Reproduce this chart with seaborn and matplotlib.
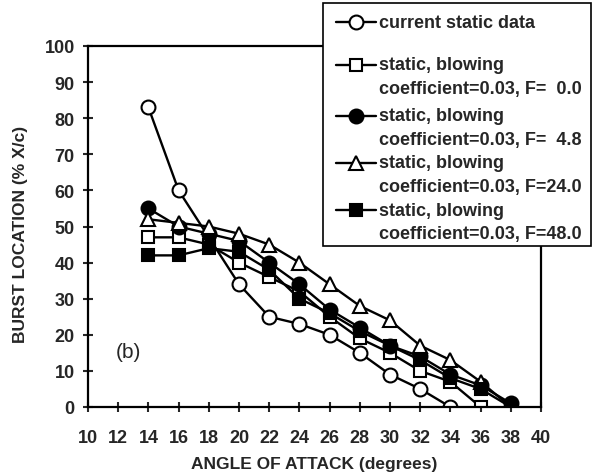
import matplotlib
matplotlib.use("Agg")
import matplotlib.pyplot as plt
from matplotlib.lines import Line2D
from matplotlib.patches import Rectangle
import seaborn as sns

# Burst location (% X/c) versus angle of attack (degrees)
angle_current = [14, 16, 20, 22, 24, 26, 28, 30, 32, 34]
burst_current = [83, 60, 34, 25, 23, 20, 15, 9, 5, 0]

angle_blowing = [14, 16, 18, 20, 22, 24, 26, 28, 30, 32, 34, 36, 38]
burst_f0_0 = [47, 47, 45, 40, 36, 32, 25, 19, 15, 10, 7, 0]
burst_f4_8 = [55, 50, 48, 46, 40, 34, 27, 22, 17, 14, 9, 6, 1]
burst_f24_0 = [52, 51, 50, 48, 45, 40, 34, 28, 24, 17, 13, 7, 0]
burst_f48_0 = [42, 42, 44, 43, 38, 30, 26, 21, 17, 13, 8, 5, 0]

legend_labels = [
    ["current static data"],
    ["static, blowing", "coefficient=0.03, F=  0.0"],
    ["static, blowing", "coefficient=0.03, F=  4.8"],
    ["static, blowing", "coefficient=0.03, F=24.0"],
    ["static, blowing", "coefficient=0.03, F=48.0"],
]

x_ticks = list(range(10, 41, 2))
y_ticks = list(range(0, 101, 10))

sns.set_style("ticks")
plt.rcParams["font.family"] = ["Liberation Sans", "DejaVu Sans"]
plt.rcParams["font.weight"] = "bold"

W, H = 596, 477
fig = plt.figure(figsize=(W / 100, H / 100), dpi=100)
ax = fig.add_axes([88 / W, 1 - 408 / H, (541 - 88) / W, (408 - 47) / H])

series = [
    (angle_current, burst_current, "o", "white", 10),
    (angle_blowing[:len(burst_f0_0)], burst_f0_0, "s", "white", 9),
    (angle_blowing, burst_f4_8, "o", "black", 10),
    (angle_blowing, burst_f24_0, "^", "white", 9.5),
    (angle_blowing, burst_f48_0, "s", "black", 9),
]

for xs, ys, mk, face, ms in series:
    sns.lineplot(x=xs, y=ys, ax=ax, color="black", linewidth=1.7,
                 marker=mk, markersize=ms, markerfacecolor=face,
                 markeredgecolor="black", markeredgewidth=1.5,
                 errorbar=None, legend=False)

ax.set_xlim(10, 40)
ax.set_ylim(0, 100)
ax.set_xticks(x_ticks)
ax.set_yticks(y_ticks)
ax.tick_params(direction="inout", length=7, width=1.5, labelsize=13)
ax.tick_params(axis="x", pad=12)
ax.tick_params(axis="y", pad=6)
for lab in ax.get_xticklabels() + ax.get_yticklabels():
    lab.set_fontweight("bold")
for sp in ax.spines.values():
    sp.set_linewidth(1.6)
    sp.set_color("black")

ax.set_xlabel("ANGLE OF ATTACK (degrees)", fontsize=12.5, fontweight="bold")
ax.set_ylabel("BURST LOCATION (% X/c)", fontsize=12.5, fontweight="bold")
ax.xaxis.set_label_coords(0.5, -0.137)
ax.yaxis.set_label_coords(-0.132, 0.48)

ax.text(12.7, 15.5, "(b)", fontsize=15, fontweight="normal",
        ha="center", va="center")

# Key box drawn in figure pixels, sitting over the top-right corner of the frame
def fx(px):
    return px / W

def fy(py):
    return 1 - py / H

box = Rectangle((fx(323), fy(247)), fx(591) - fx(323), fy(4) - fy(247),
                transform=fig.transFigure, facecolor="white",
                edgecolor="black", linewidth=1.2, zorder=5)
fig.add_artist(box)

row_tops = [23, 66, 117, 164, 211]
line_gap = 24
for (xs, ys, mk, face, ms), lines, yp in zip(series, legend_labels, row_tops):
    handle = Line2D([fx(336), fx(376)], [fy(yp), fy(yp)], transform=fig.transFigure,
                    color="black", linewidth=1.7, zorder=6)
    fig.add_artist(handle)
    dot = Line2D([fx(356)], [fy(yp)], transform=fig.transFigure, linestyle="none",
                 marker=mk, markersize=ms, markerfacecolor=face,
                 markeredgecolor="black", markeredgewidth=1.5, zorder=7)
    fig.add_artist(dot)
    for i, txt in enumerate(lines):
        fig.text(fx(379), fy(yp + i * line_gap), txt, fontsize=13,
                 fontweight="bold", ha="left", va="center", zorder=7)

fig.savefig("out.png", dpi=100)
